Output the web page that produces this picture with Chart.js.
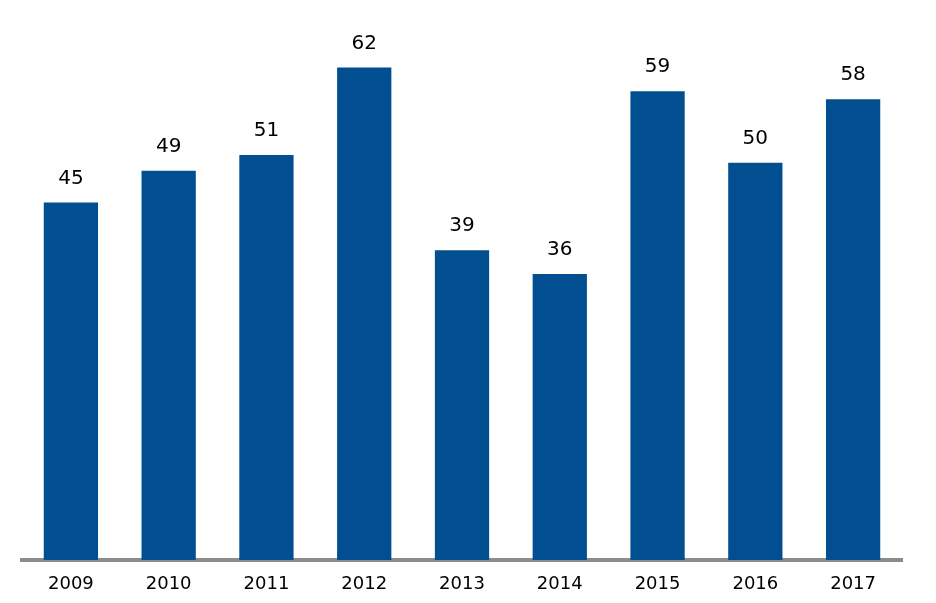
<!DOCTYPE html>
<html>
<head>
<meta charset="utf-8">
<script src="https://cdn.jsdelivr.net/npm/chart.js@4"></script>
<style>
  html, body { margin: 0; padding: 0; background: #fff; }
  #wrap { width: 936px; height: 603px; }
</style>
</head>
<body>
<div id="wrap"><canvas id="chart" width="936" height="603"></canvas></div>
<script>
const years = ['2009','2010','2011','2012','2013','2014','2015','2016','2017'];
const values = [45, 49, 51, 62, 39, 36, 59, 50, 58];

// value labels above each bar
const barLabels = {
  id: 'barLabels',
  afterDatasetsDraw(chart) {
    const ctx = chart.ctx;
    const meta = chart.getDatasetMeta(0);
    ctx.save();
    ctx.font = '20px "DejaVu Sans", Verdana, sans-serif';
    ctx.fillStyle = '#000';
    ctx.textAlign = 'center';
    ctx.textBaseline = 'alphabetic';
    meta.data.forEach((bar, i) => {
      ctx.fillText(String(values[i]), bar.x, bar.y - 19);
    });
    ctx.restore();
  }
};

new Chart(document.getElementById('chart').getContext('2d'), {
  type: 'bar',
  data: {
    labels: years,
    datasets: [{
      data: values,
      backgroundColor: '#014F91',
      categoryPercentage: 1,
      barPercentage: 0.555
    }]
  },
  options: {
    responsive: false,
    animation: false,
    layout: { padding: { left: 22, right: 34, top: 4, bottom: 0 } },
    plugins: { legend: { display: false }, tooltip: { enabled: false } },
    scales: {
      x: {
        grid: { display: false, drawTicks: false },
        border: { display: true, color: '#8C8C8C', width: 4 },
        ticks: { color: '#000', padding: 14, font: { family: '"DejaVu Sans", Verdana, sans-serif', size: 18 } },
        afterFit(scale) { scale.height = 43; }
      },
      y: { display: false, min: 0, max: 70 }
    }
  },
  plugins: [barLabels]
});
</script>
</body>
</html>
